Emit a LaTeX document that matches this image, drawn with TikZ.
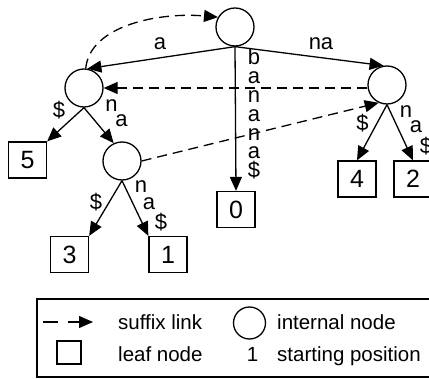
\documentclass[tikz,border=0pt]{standalone}
\usepackage{fontspec}
\setmainfont{Liberation Sans}
\usetikzlibrary{arrows.meta}
\tikzset{
  inner/.style={circle, draw, line width=1.3pt, minimum size=38pt, inner sep=0pt},
  leaf/.style={rectangle, draw, line width=1.3pt, minimum width=38pt, minimum height=36pt,
               inner sep=0pt, font=\fontsize{25}{25}\selectfont},
  edge/.style={line width=1.3pt, -{Triangle[length=14pt,width=12pt]}},
  slink/.style={edge, dash pattern=on 10pt off 6pt},
  lbl/.style={anchor=base, inner sep=0pt, font=\fontsize{22}{22}\selectfont},
  legtext/.style={anchor=base west, inner sep=0pt, font=\fontsize{20.5}{20.5}\selectfont},
}
\begin{document}
\begin{tikzpicture}[x=1pt, y=-1pt]
  \clip (0,0) rectangle (429,379);

  % internal nodes of the suffix tree of "banana$"
  \node[inner] (root) at (235,27) {};
  \node[inner] (L)    at (84,88)  {};
  \node[inner] (R)    at (387,85) {};
  \node[inner] (C)    at (122,161) {};

  % leaves, labelled by starting position
  \node[leaf] (five)  at (27.5,160)  {5};
  \node[leaf] (three) at (69.5,254.5) {3};
  \node[leaf] (one)   at (168,254.5) {1};
  \node[leaf] (zero)  at (236,209.5) {0};
  \node[leaf] (four)  at (357,179)   {4};
  \node[leaf] (two)   at (413,179)   {2};

  % tree edges
  \draw[edge] (root.south) -- (L.80);
  \draw[edge] (root.south) -- (R.100);
  \draw[edge] (root.south) -- (zero.north);
  \draw[edge] (L.south) -- (five.north east);
  \draw[edge] (L.south) -- (C.115);
  \draw[edge] (C.south) -- (three.north east);
  \draw[edge] (C.south) -- (one.north west);
  \draw[edge] (R.south) -- (four.north);
  \draw[edge] (R.south) -- (two.north);

  % suffix links
  \draw[slink] (L.85) .. controls (90,25) and (160,12) .. (root.150);
  \draw[slink] (R.west |- L.east) -- (L.east);
  \draw[slink] (C.east) -- (R.245);

  % edge labels
  \node[lbl] (la)  at (160,50) {a};
  \node[lbl] (lna) at (321,50) {na};
  \foreach \ch [count=\i from 0] in {b,a,n,a,n,a,\$}
    \node[lbl] (lb\i) at (254,{65+18.8*\i}) {\ch};
  \node[lbl] (lLd) at (59,118)    {\$};
  \node[lbl] (lLn) at (111.5,112) {n};
  \node[lbl] (lLa) at (121.5,127) {a};
  \node[lbl] (lRd) at (362.5,131) {\$};
  \node[lbl] (lRn) at (406,118)   {n};
  \node[lbl] (lRa) at (416,133)   {a};
  \node[lbl] (lRs) at (426,154)   {\$};
  \node[lbl] (lCd) at (96,210)    {\$};
  \node[lbl] (lCn) at (141,193)   {n};
  \node[lbl] (lCa) at (149,210)   {a};
  \node[lbl] (lCs) at (161,230)   {\$};

  % legend
  \draw[line width=1.3pt] (37,299) rectangle (445,377);
  \coordinate (ks) at (43,322);
  \coordinate (ke) at (93,322);
  \draw[line width=1.3pt, dash pattern=on 15pt off 10pt, -{Triangle[length=14pt,width=12pt]}] (ks) -- (ke);
  \node[legtext] (tsl) at (118,330) {suffix link};
  \node[circle, draw, line width=1.3pt, minimum size=32pt, inner sep=0pt] (kc) at (249.5,323) {};
  \node[legtext] (tin) at (277,330) {internal node};
  \node[rectangle, draw, line width=1.3pt, minimum width=24pt, minimum height=23pt, inner sep=0pt] (kb) at (69,352.5) {};
  \node[legtext] (tln) at (118,362) {leaf node};
  \node[lbl, font=\fontsize{20.5}{20.5}\selectfont] (kn) at (252.5,362) {1};
  \node[legtext] (tsp) at (277,362) {starting position};
\end{tikzpicture}
\end{document}
